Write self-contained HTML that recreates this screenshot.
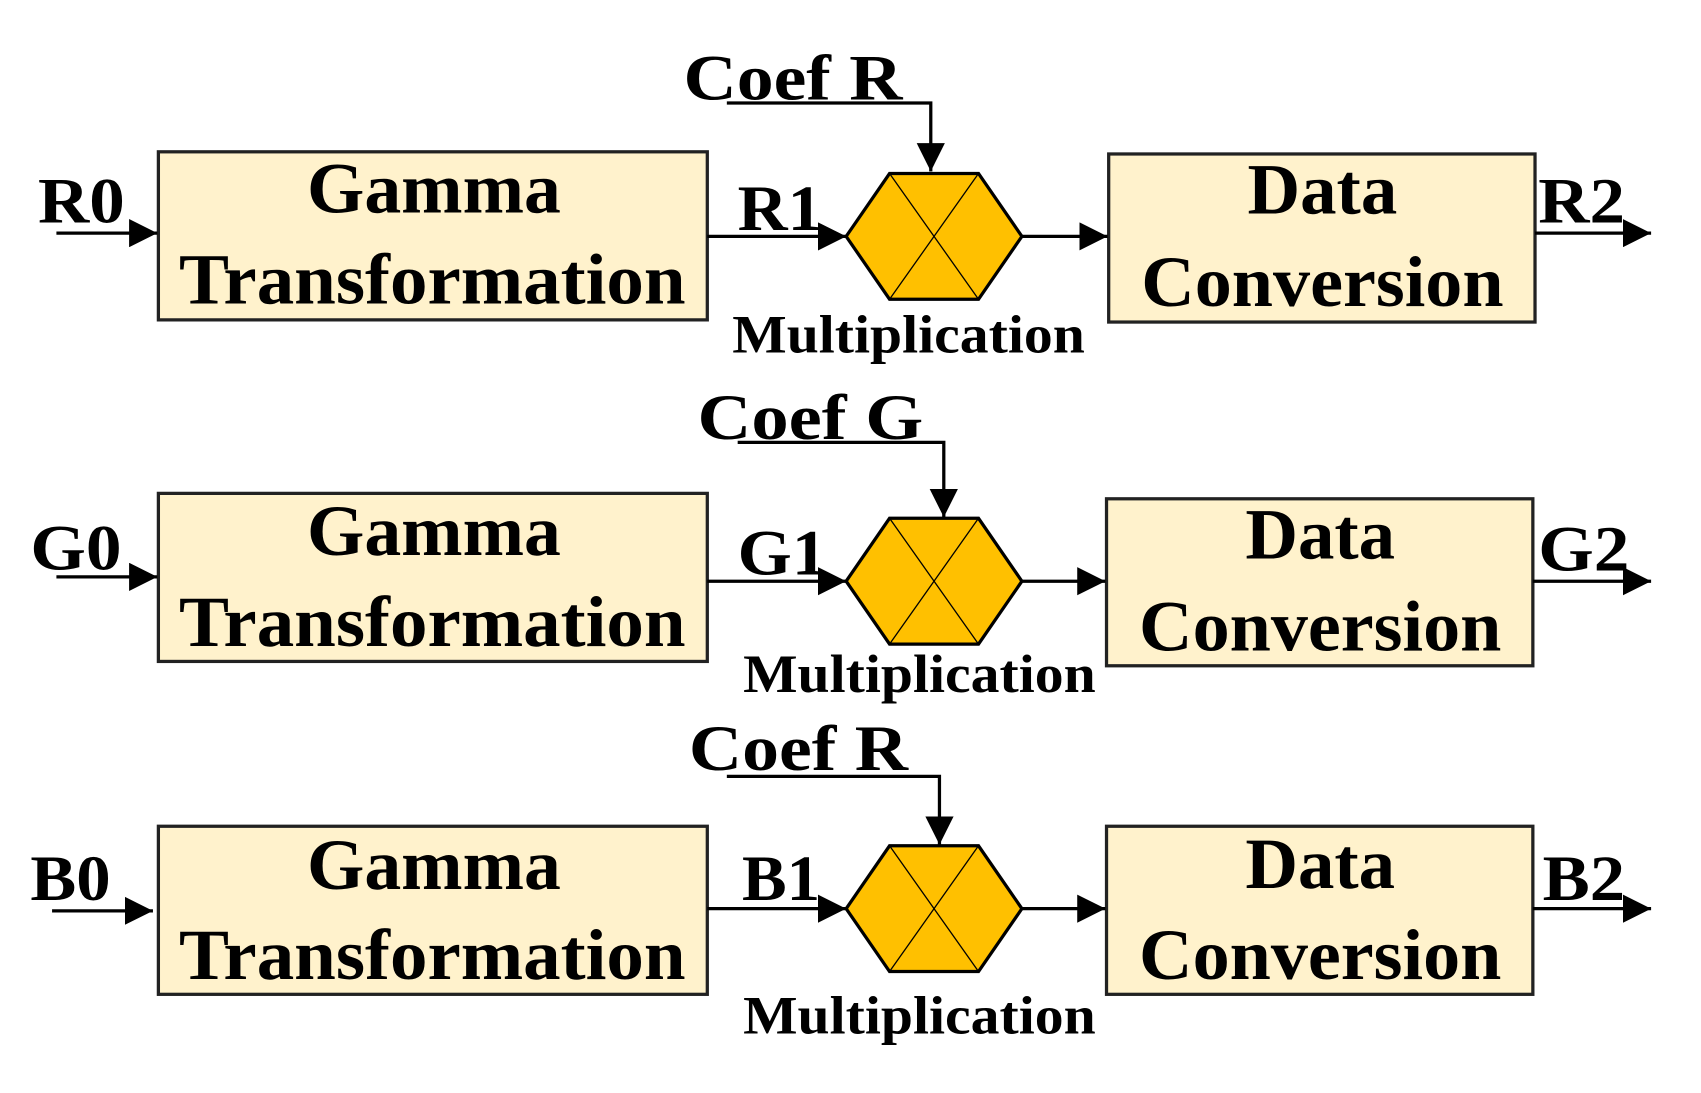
<!DOCTYPE html>
<html><head><meta charset="utf-8"><style>html,body{margin:0;padding:0;background:#fff}svg{display:block}</style></head>
<body>
<svg width="1701" height="1093" viewBox="0 0 1568 1008" preserveAspectRatio="none" xmlns="http://www.w3.org/2000/svg" font-family="'Liberation Serif',serif" font-weight="bold">
<defs>
<marker id="b" viewBox="0 0 10 10" markerWidth="26" markerHeight="26" refX="10" refY="5" orient="auto" markerUnits="userSpaceOnUse"><path d="M0,0 L10,5 L0,10 z" fill="#000"/></marker>
</defs>
<g stroke="#000" stroke-width="3" fill="none">
<rect x="146" y="140" width="506" height="155" fill="#FFF2CC" stroke="#222"/>
<rect x="1022" y="142" width="393" height="155" fill="#FFF2CC" stroke="#222"/>
<line x1="52" y1="215" x2="145" y2="215" marker-end="url(#b)"/>
<line x1="652" y1="218" x2="780" y2="218" marker-end="url(#b)"/>
<line x1="942" y1="218" x2="1021" y2="218" marker-end="url(#b)"/>
<line x1="1415" y1="215" x2="1522" y2="215" marker-end="url(#b)"/>
<polyline points="670,95 858,95 858,158" marker-end="url(#b)"/>
<polygon points="780,218 820,160 902,160 942,218 902,276 820,276" fill="#FFC000"/>
<line x1="820" y1="160" x2="902" y2="276" stroke-width="1.2"/><line x1="902" y1="160" x2="820" y2="276" stroke-width="1.2"/>
<rect x="146" y="455" width="506" height="155" fill="#FFF2CC" stroke="#222"/>
<rect x="1020" y="460" width="393" height="154" fill="#FFF2CC" stroke="#222"/>
<line x1="52" y1="532" x2="145" y2="532" marker-end="url(#b)"/>
<line x1="652" y1="536" x2="780" y2="536" marker-end="url(#b)"/>
<line x1="942" y1="536" x2="1019" y2="536" marker-end="url(#b)"/>
<line x1="1413" y1="536" x2="1522" y2="536" marker-end="url(#b)"/>
<polyline points="680,408 870,408 870,477" marker-end="url(#b)"/>
<polygon points="780,536 820,478 902,478 942,536 902,594 820,594" fill="#FFC000"/>
<line x1="820" y1="478" x2="902" y2="594" stroke-width="1.2"/><line x1="902" y1="478" x2="820" y2="594" stroke-width="1.2"/>
<rect x="146" y="762" width="506" height="155" fill="#FFF2CC" stroke="#222"/>
<rect x="1020" y="762" width="393" height="155" fill="#FFF2CC" stroke="#222"/>
<line x1="48" y1="840" x2="141" y2="840" marker-end="url(#b)"/>
<line x1="652" y1="838" x2="780" y2="838" marker-end="url(#b)"/>
<line x1="942" y1="838" x2="1019" y2="838" marker-end="url(#b)"/>
<line x1="1413" y1="838" x2="1522" y2="838" marker-end="url(#b)"/>
<polyline points="670,716 866,716 866,779" marker-end="url(#b)"/>
<polygon points="780,838 820,780 902,780 942,838 902,896 820,896" fill="#FFC000"/>
<line x1="820" y1="780" x2="902" y2="896" stroke-width="1.2"/><line x1="902" y1="780" x2="820" y2="896" stroke-width="1.2"/>
</g>
<g fill="#000" font-size="66">
<text x="283" y="196" textLength="234" lengthAdjust="spacingAndGlyphs">Gamma</text>
<text x="165" y="280" textLength="467" lengthAdjust="spacingAndGlyphs">Transformation</text>
<text x="1150" y="197" textLength="138" lengthAdjust="spacingAndGlyphs">Data</text>
<text x="1052" y="282" textLength="334" lengthAdjust="spacingAndGlyphs">Conversion</text>
<text x="283" y="512" textLength="234" lengthAdjust="spacingAndGlyphs">Gamma</text>
<text x="165" y="596" textLength="467" lengthAdjust="spacingAndGlyphs">Transformation</text>
<text x="1148" y="515" textLength="138" lengthAdjust="spacingAndGlyphs">Data</text>
<text x="1050" y="600" textLength="334" lengthAdjust="spacingAndGlyphs">Conversion</text>
<text x="283" y="820" textLength="234" lengthAdjust="spacingAndGlyphs">Gamma</text>
<text x="165" y="903" textLength="467" lengthAdjust="spacingAndGlyphs">Transformation</text>
<text x="1148" y="819" textLength="138" lengthAdjust="spacingAndGlyphs">Data</text>
<text x="1050" y="903" textLength="334" lengthAdjust="spacingAndGlyphs">Conversion</text>
</g>
<g fill="#000" font-size="60">
<text x="630" y="92" textLength="202" lengthAdjust="spacingAndGlyphs">Coef R</text>
<text x="643" y="405" textLength="208" lengthAdjust="spacingAndGlyphs">Coef G</text>
<text x="635" y="710" textLength="202" lengthAdjust="spacingAndGlyphs">Coef R</text>
<text x="35" y="205" textLength="80" lengthAdjust="spacingAndGlyphs">R0</text>
<text x="28" y="525" textLength="84" lengthAdjust="spacingAndGlyphs">G0</text>
<text x="28" y="830" textLength="74" lengthAdjust="spacingAndGlyphs">B0</text>
<text x="680" y="212" textLength="78" lengthAdjust="spacingAndGlyphs">R1</text>
<text x="680" y="530" textLength="82" lengthAdjust="spacingAndGlyphs">G1</text>
<text x="684" y="830" textLength="72" lengthAdjust="spacingAndGlyphs">B1</text>
<text x="1418" y="205" textLength="80" lengthAdjust="spacingAndGlyphs">R2</text>
<text x="1418" y="526" textLength="84" lengthAdjust="spacingAndGlyphs">G2</text>
<text x="1422" y="830" textLength="76" lengthAdjust="spacingAndGlyphs">B2</text>
</g>
<g fill="#000" font-size="50">
<text x="675" y="325" textLength="325" lengthAdjust="spacingAndGlyphs">Multiplication</text>
<text x="685" y="638" textLength="325" lengthAdjust="spacingAndGlyphs">Multiplication</text>
<text x="685" y="953" textLength="325" lengthAdjust="spacingAndGlyphs">Multiplication</text>
</g>
</svg>
</body></html>
